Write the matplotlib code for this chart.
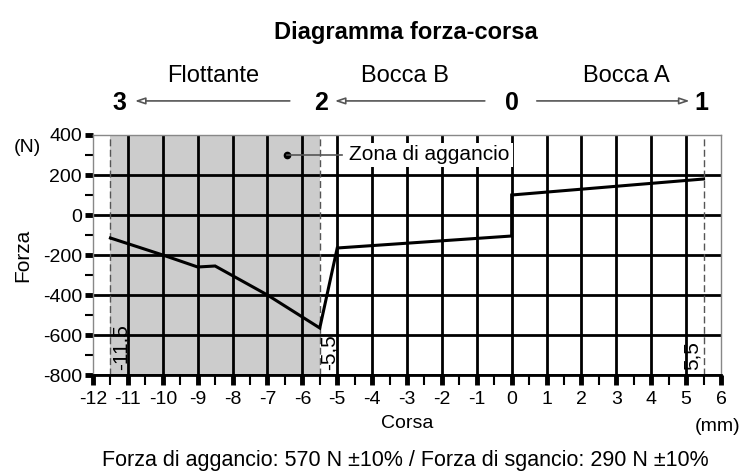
import matplotlib
matplotlib.use("Agg")
import matplotlib.pyplot as plt
from matplotlib.ticker import MultipleLocator

plt.rcParams['font.family'] = ['Liberation Sans', 'DejaVu Sans']
plt.rcParams['axes.unicode_minus'] = False

# Data
corsa = [-11.5, -10, -9, -8.5, -7, -5.5, -5, 0, 0, 5.5]
forza = [-115, -200, -260, -255, -400, -565, -165, -105, 100, 180]

x_ticks = list(range(-12, 7))
y_ticks = [-800, -600, -400, -200, 0, 200, 400]
zone = (-11.5, -5.5)
markers = [-11.5, -5.5, 5.5]
marker_labels = ["-11,5", "-5,5", "5,5"]

positions = ["3", "2", "0", "1"]
position_x = [-11.25, -5.47, 0.0, 5.45]
regions = ["Flottante", "Bocca B", "Bocca A"]
region_x = [-8.55, -3.05, 3.3]

fig = plt.figure(figsize=(7.45, 4.73), dpi=100)
ax = fig.add_axes([93/745, 1-375/473, 628/745, 240/473])
ax.set_xlim(-12, 6)
ax.set_ylim(-800, 400)

# shaded zone
ax.axvspan(zone[0], zone[1], color='#cccccc', lw=0, zorder=0)

# grid
for xv in x_ticks[1:-1]:
    ax.axvline(xv, color='black', lw=2, zorder=1)
for yv in y_ticks[:-1]:
    ax.axhline(yv, color='black', lw=2, zorder=1)

# dashed markers
for xv in markers:
    ax.axvline(xv, color='#555555', lw=1, ls=(0, (5, 2.5)), zorder=2)

# curve
ax.plot(corsa, forza, color='black', lw=2.2, zorder=4, solid_joinstyle='miter')

# marker labels
lab_dx = [0.3, 0.27, -0.33]
for xv, lab, dx in zip(markers, marker_labels, lab_dx):
    ax.text(xv + dx, -775, lab, rotation=90, ha='center', va='bottom',
            fontsize=15, zorder=5)

# zone annotation
ax.plot([-6.45], [300], 'o', color='black', ms=4.5, zorder=5)
ax.plot([-6.45, -4.85], [300, 300], color='#555555', lw=1.2, zorder=5)
ax.text(-4.65, 300, "Zona di aggancio", fontsize=15, va='center', ha='left', zorder=5,
        bbox=dict(facecolor='white', edgecolor='none', pad=2))

# spines
for s in ['top', 'left', 'right']:
    ax.spines[s].set_color('#888888')
    ax.spines[s].set_linewidth(1)
ax.spines['bottom'].set_color('black')
ax.spines['bottom'].set_linewidth(2)

ax.set_xticks(x_ticks)
ax.set_xticklabels([str(v) for v in x_ticks])
ax.set_yticks(y_ticks)
ax.set_yticklabels([str(v) for v in y_ticks])
ax.xaxis.set_minor_locator(MultipleLocator(0.5))
ax.yaxis.set_minor_locator(MultipleLocator(100))
ax.tick_params(axis='x', which='major', length=7.5, width=3.5, labelsize=14, pad=4, color='black')
ax.tick_params(axis='x', which='minor', length=7.5, width=1.5, color='black')
ax.tick_params(axis='y', which='major', length=6, width=3.5, labelsize=14, pad=2, color='black')
ax.tick_params(axis='y', which='minor', length=6, width=1.5, color='black')

ax.set_xlabel("Corsa", fontsize=14, labelpad=5)
ax.set_ylabel("Forza", fontsize=15, labelpad=2)
ax.yaxis.set_label_coords(-0.097, 0.5)
ax.text(0.995, -0.215, "(mm)", transform=ax.transAxes, fontsize=14, ha='center', va='center')
ax.text(-0.105, 0.95, "(N)", transform=ax.transAxes, fontsize=14, ha='center', va='center')

# header
trans = ax.get_xaxis_transform()
for lab, xv in zip(regions, region_x):
    ax.text(xv, 1.245, lab, transform=trans, fontsize=17, ha='center', va='center', clip_on=False)
for lab, xv in zip(positions, position_x):
    ax.text(xv, 1.135, lab, transform=trans, fontsize=18, fontweight='bold',
            ha='center', va='center', clip_on=False)

arrow_y = 1.142
arrows = [(-6.36, -10.8), (-0.77, -5.07), (0.72, 5.1)]
for x0, x1 in arrows:
    ax.annotate("", xy=(x1, arrow_y), xytext=(x0, arrow_y), xycoords=trans, textcoords=trans,
                arrowprops=dict(arrowstyle='-|>,head_length=0.6,head_width=0.2', color='#555555',
                                fc='white', lw=1.2, shrinkA=0, shrinkB=0),
                annotation_clip=False)

fig.text(406/745, 1-33/473, "Diagramma forza-corsa", fontsize=17, fontweight='bold',
         ha='center', va='center')
fig.text(405/745, 1-460/473, "Forza di aggancio: 570 N \u00b110% / Forza di sgancio: 290 N \u00b110%",
         fontsize=15.5, ha='center', va='center')

fig.savefig("out.png", dpi=100)
